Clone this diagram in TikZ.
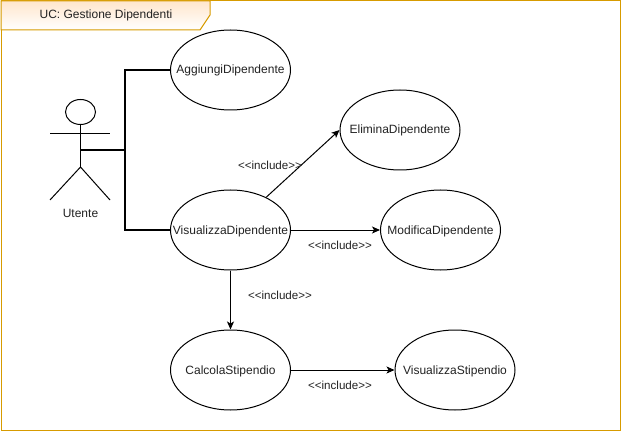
\documentclass[tikz,border=0pt]{standalone}
\usepackage{fontspec}
\setmainfont{Liberation Sans}
\usetikzlibrary{arrows.meta,shapes.geometric}
\definecolor{framecol}{HTML}{D79B00}
\definecolor{tabcol}{HTML}{FFE6CC}
\definecolor{textcol}{HTML}{222222}
\tikzset{
	usecase/.style={draw, ellipse, fill=white, minimum width=90pt, minimum height=60pt, inner xsep=-30pt, inner ysep=0pt, text height=8pt, text depth=2pt, font=\fontsize{9}{11}\selectfont, text=textcol},
	includelabel/.style={font=\fontsize{8.7}{10}\selectfont, text=textcol},
	actorlink/.style={draw=black, line width=1.5pt},
	includearrow/.style={draw=black, line width=.75pt, -{Stealth[length=6pt, width=5.25pt, inset=1.5pt]}}
}

\begin{document}
\begin{tikzpicture}[x=.75pt, y=-.75pt, line width=.75pt]
	\useasboundingbox (0,0) rectangle (621,431);
	\draw[draw=framecol] (1,1) rectangle (620,430);
	\draw[draw=framecol, top color=tabcol, bottom color=white] (1,1) -- (210,1) -- (210,15) -- (200,30) -- (1,30) -- cycle;
	\node[font=\fontsize{9}{11}\selectfont, text=textcol] (title) at (106,15) {UC: Gestione Dipendenti};

	\draw (80.5,112) node[draw, ellipse, minimum width=22.5pt, minimum height=18.75pt, inner sep=0pt] (head) {};
	\coordinate (hand) at (80.5,150);
	\coordinate (hip) at (80.5,167);
	\coordinate (armleft) at (50,133.5);
	\coordinate (armright) at (110,133.5);
	\coordinate (footleft) at (50,200);
	\coordinate (footright) at (110,200);
	\draw (head) -- (hip);
	\draw (armleft) -- (armright);
	\draw (footleft) -- (hip) -- (footright);
	\node[font=\fontsize{9}{11}\selectfont, text=textcol] (utente) at (80.5,213) {Utente};

	\node[usecase] (aggiungi) at (230.5,70) {AggiungiDipendente};
	\node[usecase] (visualizza) at (230.5,230) {VisualizzaDipendente};
	\node[usecase] (elimina) at (400,130) {EliminaDipendente};
	\node[usecase] (modifica) at (440.5,230) {ModificaDipendente};
	\node[usecase] (calcola) at (230.5,370) {CalcolaStipendio};
	\node[usecase] (stipendio) at (455,370) {VisualizzaStipendio};

	\coordinate (branch) at (125,150);
	\draw[actorlink] (hand) -- (branch) |- (aggiungi.west);
	\draw[actorlink] (branch) |- (visualizza.west);

	\draw[includearrow] (visualizza) -- (elimina.west);
	\draw[includearrow] (visualizza) -- (modifica);
	\draw[includearrow] (visualizza) -- (calcola);
	\draw[includearrow] (calcola) -- (stipendio);

	\node[includelabel] (labelelimina) at (270,165) {<{}<include>{}>};
	\node[includelabel] (labelmodifica) at (340,245) {<{}<include>{}>};
	\node[includelabel] (labelcalcola) at (280,295) {<{}<include>{}>};
	\node[includelabel] (labelstipendio) at (340,385) {<{}<include>{}>};
\end{tikzpicture}
\end{document}
